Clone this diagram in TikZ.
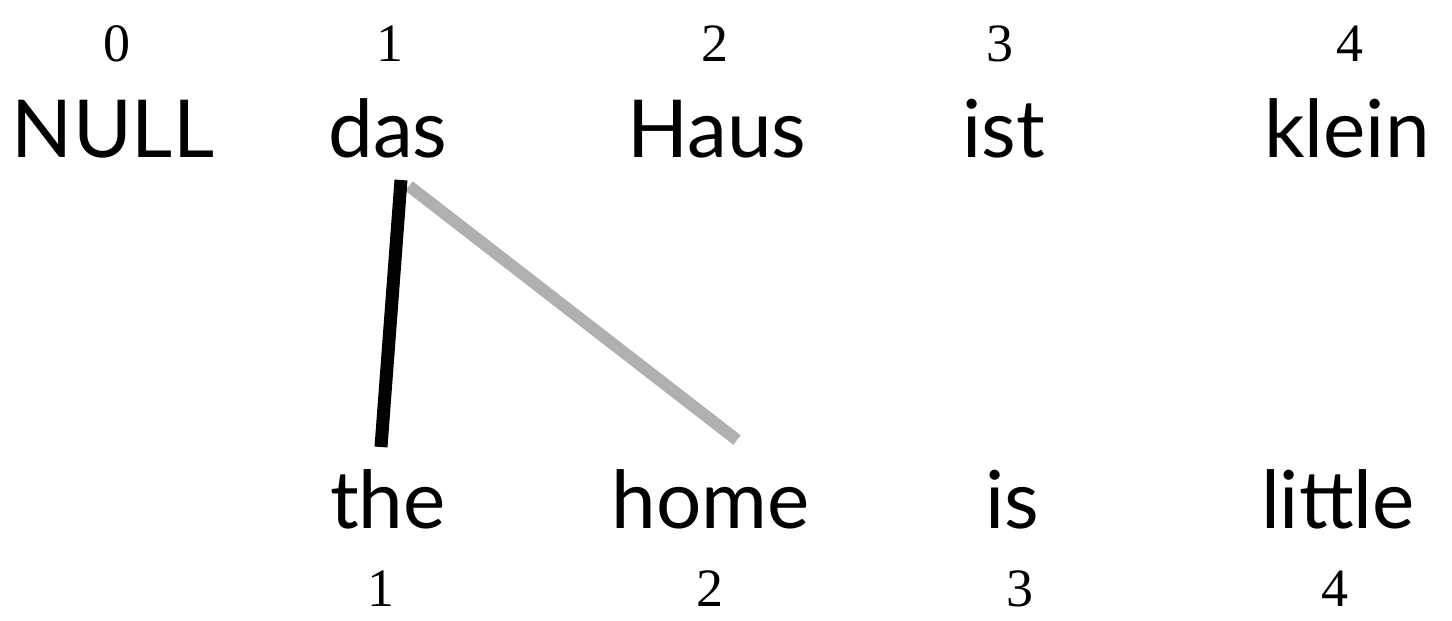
\documentclass[tikz,border=0pt]{standalone}
\usepackage{fontspec}
\setmainfont{Liberation Serif}
\newfontfamily\wordfont{Lato}
\begin{document}
\begin{tikzpicture}[x=1pt,y=-1pt,
  word/.style={anchor=base,inner sep=0pt,font=\wordfont\fontsize{80}{90}\selectfont},
  idx/.style={anchor=base,inner sep=0pt,font=\fontsize{54}{62}\selectfont},
  strong/.style={line width=13pt,black},
  weak/.style={line width=12pt,color=black!31}]
\useasboundingbox (0,0) rectangle (1452,621);
% top indices
\node[idx] (t0) at (117,61) {0};
\node[idx] (t1) at (390,61) {1};
\node[idx] (t2) at (715,61) {2};
\node[idx] (t3) at (1000,61) {3};
\node[idx] (t4) at (1350,61) {4};
% German words
\node[word] (null) at (113,157) {NULL};
\node[word] (das) at (388,157) {das};
\node[word] (haus) at (717,157) {Haus};
\node[word] (ist) at (1004,157) {ist};
\node[word] (klein) at (1347,157) {klein};
% English words
\node[word] (the) at (388,528) {the};
\node[word] (home) at (711,528) {home};
\node[word] (is) at (1012,528) {is};
\node[word] (little) at (1338,528) {little};
% bottom indices
\node[idx] (b1) at (381,606) {1};
\node[idx] (b2) at (710,606) {2};
\node[idx] (b3) at (1020,606) {3};
\node[idx] (b4) at (1335,606) {4};
% alignments
\draw[weak] ([shift={(21,29)}]das.base) -- ([shift={(26,-88)}]home.base);
\draw[strong] ([shift={(13,23)}]das.base) -- ([shift={(-7,-81)}]the.base);
\end{tikzpicture}
\end{document}
